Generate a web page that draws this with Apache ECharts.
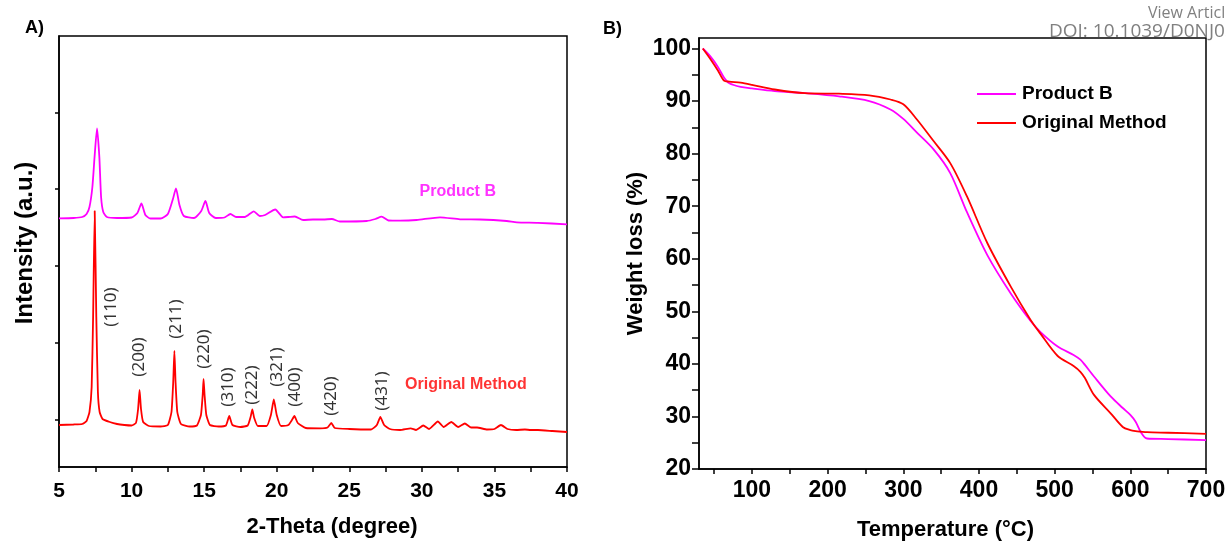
<!DOCTYPE html>
<html>
<head>
<meta charset="utf-8">
<script src="https://cdn.jsdelivr.net/npm/echarts@6/dist/echarts.min.js"></script>
<style>
  html, body { margin: 0; background: #fff; }
  #chart { width: 1226px; height: 542px; }
</style>
</head>
<body>
<div id="chart"></div>
<script>
// A) XRD patterns (2-theta, arbitrary intensity)
const originalTheta = [5.0, 6.0, 6.6, 6.9, 7.1, 7.25, 7.35, 7.46, 7.57, 7.68, 7.8, 8.0, 8.5, 9.0, 9.5, 10.0,
  10.3, 10.45, 10.55, 10.65, 10.8, 11.2, 12.0, 12.5, 12.75, 12.87, 12.95, 13.03, 13.15, 13.4, 14.0, 14.5,
  14.78, 14.9, 14.96, 15.03, 15.15, 15.4, 16.0, 16.5, 16.73, 16.95, 17.5, 18.0, 18.2, 18.32, 18.45, 18.7,
  19.3, 19.6, 19.8, 20.0, 20.3, 20.8, 21.05, 21.22, 21.45, 22.0, 23.0, 23.5, 23.76, 24.0, 25.0, 26.5,
  26.9, 27.14, 27.4, 27.8, 28.5, 29.23, 29.6, 30.1, 30.5, 31.1, 31.5, 32.03, 32.5, 32.96, 33.4, 33.8,
  34.5, 35.0, 35.45, 35.9, 36.5, 37.1, 37.5, 38.0, 39.0, 40.0];
const originalIntensity = [42, 42.5, 43, 46, 55, 80, 150, 256, 150, 75, 55, 48, 45, 43, 42, 41.5,
  44, 58, 77, 58, 45, 41, 40.5, 42, 55, 85, 116, 85, 55, 43, 40.5, 41.5,
  52, 72, 88, 72, 52, 42, 40.5, 41.5, 51, 42, 40, 41.5, 50, 57.5, 49, 41,
  41, 52, 67.5, 52, 41, 42, 47, 51, 44, 39, 38.7, 39.5, 44, 39, 38, 37.5,
  42, 50, 42, 38, 37, 38.7, 37, 41.5, 38, 45.5, 40, 45, 40, 43.5, 39.5, 39.5,
  37.5, 38, 42, 38, 37, 37.5, 37, 37, 36, 35];

const productTheta = [5.0, 6.0, 6.6, 6.9, 7.1, 7.3, 7.45, 7.62, 7.78, 7.9, 8.05, 8.3, 9.0, 10.0, 10.4,
  10.68, 10.95, 11.3, 12.0, 12.5, 12.85, 13.06, 13.3, 13.6, 14.3, 14.8, 15.09, 15.35, 15.8, 16.4, 16.81,
  17.2, 17.8, 18.42, 18.83, 19.2, 19.9, 20.44, 20.8, 21.25, 21.82, 22.5, 23.2, 23.8, 24.35, 26.2, 26.8,
  27.23, 27.7, 28.5, 29.64, 31.25, 32.63, 34.0, 35.85, 36.54, 38.0, 40.0];
const productIntensity = [248.7, 249, 250, 253, 260, 280, 310, 338.7, 310, 270, 255, 250, 249, 249.5, 254,
  263.5, 252, 248.5, 248.5, 253, 268, 278.7, 262, 251, 249, 256, 266, 254, 249, 249.5, 253,
  250, 250, 255.7, 251, 252, 257.5, 249.7, 250, 250.5, 247, 247.5, 247.5, 248, 245.5, 246, 248,
  250.3, 246.5, 246.3, 247, 249.7, 247.7, 247.5, 246, 244.7, 244.2, 242.7];

// peak indexing labels
const hklLabels = ['(110)', '(200)', '(211)', '(220)', '(310)', '(222)', '(321)', '(400)', '(420)', '(431)'];
const hklTheta = [8.59, 10.51, 13.08, 14.97, 16.63, 18.28, 20.01, 21.25, 23.73, 27.25];
const hklIntensity = [160, 110, 148, 118, 80, 82, 100, 80, 71, 76];
const xrdTickValues = [47, 124, 201, 278, 354];

// B) TGA curves
const tgaTemp = [35, 45, 55, 63, 70, 85, 100, 130, 170, 215, 255, 283, 300, 318, 340, 362, 384, 411,
  442, 468, 481, 504, 525, 534, 540, 552, 574, 590, 600, 607, 614, 622, 650, 700];
const tgaProduct = [100, 98.5, 96.5, 94.5, 93.4, 92.7, 92.4, 91.9, 91.5, 90.9, 90.0, 88.4, 86.6, 84.0,
  80.8, 76.3, 68.9, 60.7, 53.4, 48.2, 46.1, 43.3, 41.7, 40.8, 39.8, 37.6, 33.8, 31.6, 30.3, 29.0,
  27.0, 25.8, 25.7, 25.5];
const tgaOriginal = [100, 98.0, 95.8, 93.9, 93.7, 93.5, 93.1, 92.2, 91.5, 91.4, 91.1, 90.3, 89.4, 86.5,
  82.4, 78.2, 71.9, 63.0, 54.7, 48.4, 45.8, 41.5, 39.6, 38.5, 37.3, 34.1, 30.6, 28.0, 27.4, 27.2,
  27.1, 27.0, 26.9, 26.7];

const tempLabels = [100, 200, 300, 400, 500, 600, 700];
const tempTicks = [50, 100, 150, 200, 250, 300, 350, 400, 450, 500, 550, 600, 650, 700];
const weightLabels = [20, 30, 40, 50, 60, 70, 80, 90, 100];
const weightTicks = [20, 25, 30, 35, 40, 45, 50, 55, 60, 65, 70, 75, 80, 85, 90, 95, 100];

const MAGENTA = '#ff00ff';
const RED = '#ff0000';
const SANS = '"Liberation Sans", Arial, sans-serif';
const GREY_FONT = '"Open Sans", "Noto Sans", sans-serif';

// use the narrow face for the series captions when it is installed
const probe = document.createElement('canvas').getContext('2d');
const widthOf = (family) => {
  probe.font = 'bold 20px ' + family;
  return probe.measureText('Original Method').width;
};
const hasNarrow = widthOf('"Liberation Sans Narrow", monospace') !== widthOf('monospace');
const NARROW = hasNarrow ? '"Liberation Sans Narrow", ' + SANS : SANS;

const zip = (xs, ys) => xs.map((x, i) => [x, ys[i]]);

const axisLine = { show: true, lineStyle: { color: '#000', width: 1.5 } };

const chart = echarts.init(document.getElementById('chart'));

const option = {
  backgroundColor: '#fff',
  animation: false,
  textStyle: { fontFamily: SANS },
  grid: [
    {
      left: 59, right: 659, top: 36, bottom: 75, outerBoundsMode: 'none',
      show: true, borderColor: '#000', borderWidth: 1.5,
    },
    {
      left: 699, right: 20, top: 38, bottom: 73, outerBoundsMode: 'none',
      show: true, borderColor: '#000', borderWidth: 1.5,
    },
  ],
  legend: {
    orient: 'vertical',
    left: 977,
    top: 84,
    padding: 0,
    icon: 'rect',
    itemWidth: 39,
    itemHeight: 2,
    itemGap: 9,
    data: ['Product B', 'Original Method'],
    textStyle: {
      fontFamily: NARROW, fontWeight: 'bold', fontSize: hasNarrow ? 23 : 19,
      color: '#000', lineHeight: 20, padding: [0, 0, 0, 1],
    },
  },
  xAxis: [
    {
      gridIndex: 0, type: 'value', min: 5, max: 40, interval: 5,
      name: '2-Theta (degree)', nameLocation: 'middle', nameGap: 49,
      nameTextStyle: { fontSize: 22, fontWeight: 'bold', color: '#000', padding: [0, 0, 0, 38] },
      axisLine,
      axisTick: { length: 5, lineStyle: { color: '#000', width: 1.5 } },
      minorTick: { show: true, splitNumber: 2, length: 5, lineStyle: { color: '#000', width: 1.5 } },
      axisLabel: { fontSize: 21, fontWeight: 'bold', color: '#000', margin: 14 },
      splitLine: { show: false },
    },
    {
      gridIndex: 1, type: 'value', min: 30, max: 700,
      name: 'Temperature (°C)', nameLocation: 'middle', nameGap: 50,
      nameTextStyle: { fontSize: 22, fontWeight: 'bold', color: '#000', padding: [0, 14, 0, 0] },
      axisLine,
      axisTick: { length: 5, customValues: tempTicks, lineStyle: { color: '#000', width: 1.5 } },
      axisLabel: { fontSize: 23, fontWeight: 'bold', color: '#000', margin: 10, customValues: tempLabels },
      splitLine: { show: false },
    },
  ],
  yAxis: [
    {
      gridIndex: 0, type: 'value', min: 0, max: 431,
      name: 'Intensity (a.u.)', nameLocation: 'middle', nameGap: 22,
      nameTextStyle: { fontSize: 24, fontWeight: 'bold', color: '#000', padding: [0, 0, 0, 17] },
      axisLine,
      axisTick: { length: 4, customValues: xrdTickValues, lineStyle: { color: '#000', width: 1.5 } },
      axisLabel: { show: false },
      splitLine: { show: false },
    },
    {
      gridIndex: 1, type: 'value', min: 20, max: 102,
      name: 'Weight loss (%)', nameLocation: 'middle', nameGap: 52,
      nameTextStyle: { fontSize: 22, fontWeight: 'bold', color: '#000' },
      axisLine,
      axisTick: { length: 7, customValues: weightTicks, lineStyle: { color: '#000', width: 1.5 } },
      axisLabel: { fontSize: 23, fontWeight: 'bold', color: '#000', margin: 8, customValues: weightLabels },
      splitLine: { show: false },
    },
  ],
  series: [
    {
      name: 'Product B', type: 'line', xAxisIndex: 0, yAxisIndex: 0,
      data: zip(productTheta, productIntensity), symbol: 'none',
      smooth: 0.2, lineStyle: { color: MAGENTA, width: 1.8 }, itemStyle: { color: MAGENTA },
    },
    {
      name: 'Original Method', type: 'line', xAxisIndex: 0, yAxisIndex: 0,
      data: zip(originalTheta, originalIntensity), symbol: 'none',
      smooth: 0.15, lineStyle: { color: RED, width: 1.8 }, itemStyle: { color: RED },
    },
    {
      // hkl indices above the peaks
      type: 'scatter', xAxisIndex: 0, yAxisIndex: 0, silent: true, symbolSize: 0,
      data: hklTheta.map((t, i) => ({ value: [t, hklIntensity[i]], name: hklLabels[i] })),
      label: {
        show: true, position: 'inside', rotate: 90, formatter: '{b}',
        fontFamily: '"Noto Sans", "Open Sans", sans-serif', fontSize: 17, color: '#000',
      },
    },
    {
      // curve captions
      type: 'scatter', xAxisIndex: 0, yAxisIndex: 0, silent: true, symbolSize: 0,
      data: [
        { value: [32.47, 275], name: 'Product B', label: { color: MAGENTA } },
        { value: [33.04, 82], name: 'Original Method', label: { color: RED } },
      ],
      label: {
        show: true, position: 'inside', formatter: '{b}',
        fontFamily: NARROW, fontWeight: 'bold', fontSize: hasNarrow ? 20 : 16,
      },
    },
    {
      name: 'Product B', type: 'line', xAxisIndex: 1, yAxisIndex: 1,
      data: zip(tgaTemp, tgaProduct), symbol: 'none',
      smooth: 0.3, lineStyle: { color: MAGENTA, width: 1.8 }, itemStyle: { color: MAGENTA },
    },
    {
      name: 'Original Method', type: 'line', xAxisIndex: 1, yAxisIndex: 1,
      data: zip(tgaTemp, tgaOriginal), symbol: 'none',
      smooth: 0.3, lineStyle: { color: RED, width: 1.8 }, itemStyle: { color: RED },
    },
  ],
  graphic: [
    { type: 'text', left: 25, top: 19, style: { text: 'A)', fontFamily: SANS, fontWeight: 'bold', fontSize: 18, fill: '#000' } },
    { type: 'text', left: 603, top: 20, style: { text: 'B)', fontFamily: SANS, fontWeight: 'bold', fontSize: 18, fill: '#000' } },
    { type: 'text', left: 1148, top: 5, style: { text: 'View Article Online', fontFamily: GREY_FONT, fontSize: 16, fill: '#808080' } },
    { type: 'text', left: 1049, top: 22, style: { text: 'DOI: 10.1039/D0NJ05', fontFamily: GREY_FONT, fontSize: 19, fill: '#808080' } },
  ],
};

chart.setOption(option);

window.addEventListener('resize', () => {
  chart.resize();
});
</script>
</body>
</html>
